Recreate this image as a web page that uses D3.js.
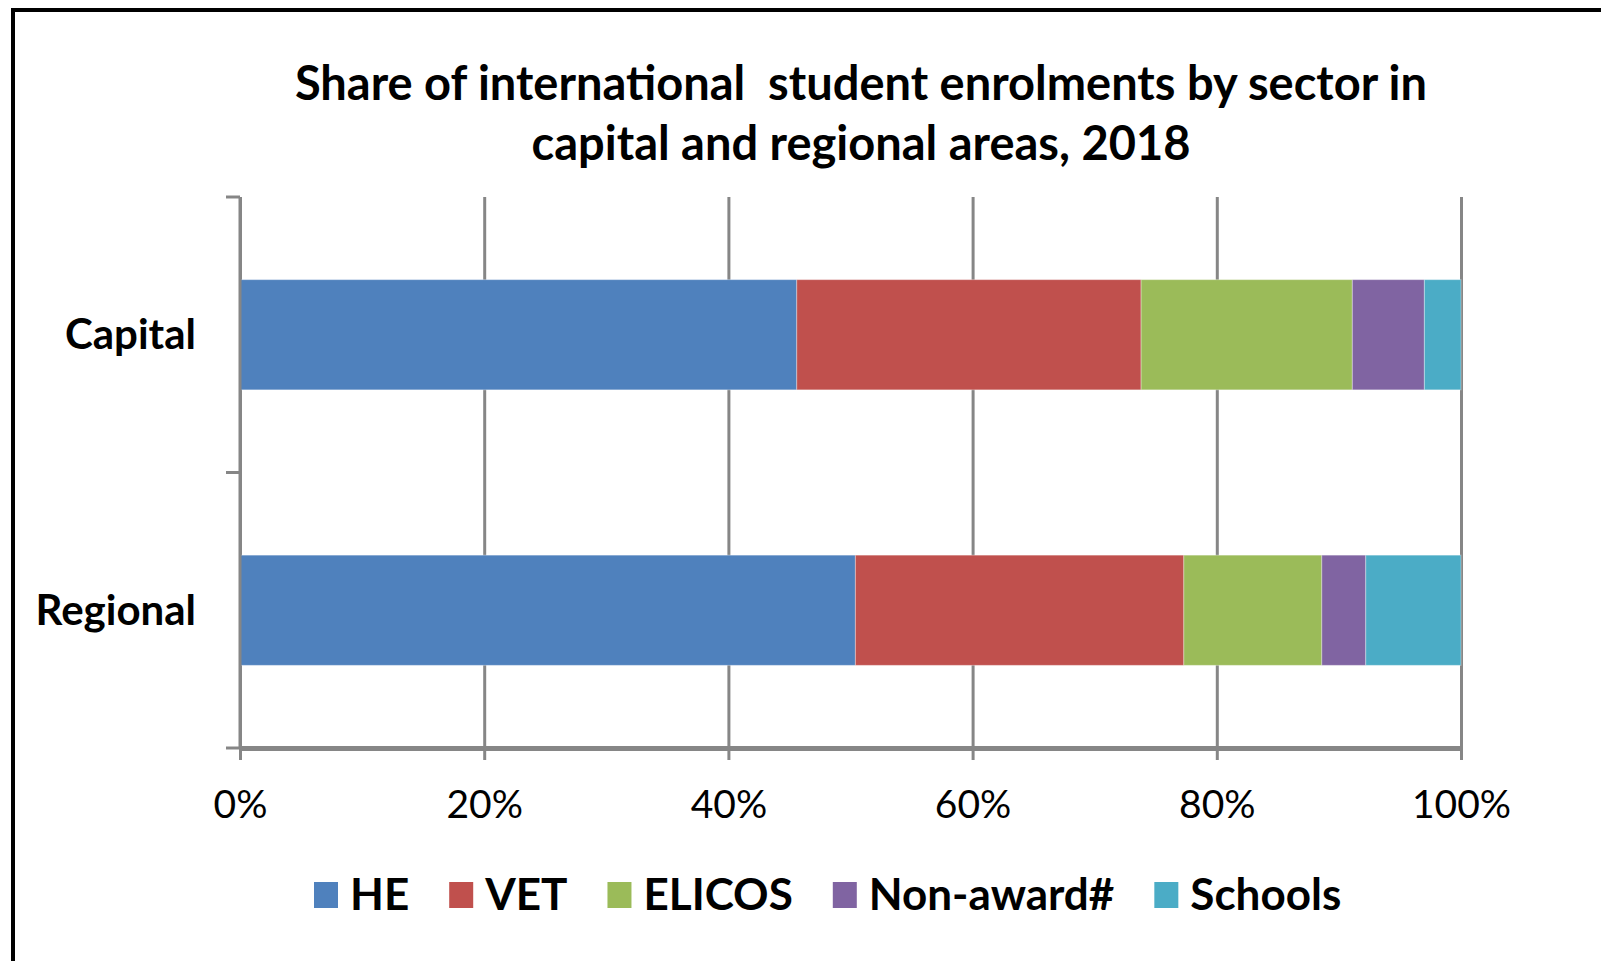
<!DOCTYPE html>
<html>
<head>
<meta charset="utf-8">
<script src="https://cdn.jsdelivr.net/npm/d3@7"></script>
<style>
  body { margin: 0; background: #fff; }
  svg { display: block; font-family: Lato, "Open Sans", sans-serif; }
</style>
</head>
<body>
<svg id="chart" width="1601" height="961"></svg>
<script>
// data (percent of enrolments)
var areas = ["Capital", "Regional"];
var sectors = ["HE", "VET", "ELICOS", "Non-award#", "Schools"];
var capitalShare = [45.6, 28.2, 17.3, 5.9, 3.0];
var regionalShare = [50.4, 26.9, 11.3, 3.6, 7.8];
var xTicks = [0, 20, 40, 60, 80, 100];
var sectorColors = ["#4F81BD", "#C0504D", "#9BBB59", "#8064A2", "#4BACC6"];
var titleLines = ["Share of international  student enrolments by sector in",
                  "capital and regional areas, 2018"];

var width = 1601, height = 961;
var margins = {top: 197, right: 140, bottom: 213, left: 240};

var svg = d3.select("#chart");

// frame (image is cropped so only left and top edges show)
svg.append("rect")
    .attr("x", 13).attr("y", 10)
    .attr("width", 2000).attr("height", 2000)
    .attr("fill", "none")
    .attr("stroke", "#000")
    .attr("stroke-width", 4);

// title
svg.append("g").selectAll("text")
    .data(titleLines)
    .enter().append("text")
    .attr("x", 861)
    .attr("y", (d, i) => 100 + i * 60)
    .attr("text-anchor", "middle")
    .attr("font-size", 47)
    .attr("font-weight", "bold")
    .attr("fill", "#000")
    .style("white-space", "pre")
    .text(d => d);

var rows = areas.map(function(a, i) {
    var vals = i === 0 ? capitalShare : regionalShare;
    var row = {area: a};
    sectors.forEach((s, j) => row[s] = vals[j]);
    return row;
});

var stacked = d3.stack().keys(sectors)(rows);

var xScale = d3.scaleLinear().domain([0, 100]).range([margins.left, width - margins.right]);
var yScale = d3.scaleBand().domain(areas)
    .range([margins.top, height - margins.bottom])
    .paddingInner(0.6).paddingOuter(0.3);

var plotBottom = height - margins.bottom;

// gridlines
svg.append("g")
    .attr("class", "grid")
    .attr("transform", "translate(0," + plotBottom + ")")
    .call(d3.axisBottom(xScale).tickValues(xTicks).tickSize(-(plotBottom - margins.top)).tickFormat(""))
    .call(g => g.select(".domain").remove())
    .call(g => g.selectAll("line").attr("stroke", "#868686").attr("stroke-width", 3));

// bars
var color = d3.scaleOrdinal().domain(sectors).range(sectorColors);
svg.append("g").selectAll("g")
    .data(stacked)
    .enter().append("g")
    .attr("fill", d => color(d.key))
    .selectAll("rect")
    .data(d => d)
    .enter().append("rect")
    .attr("x", d => xScale(d[0]))
    .attr("width", d => xScale(d[1]) - xScale(d[0]))
    .attr("y", d => yScale(d.data.area))
    .attr("height", yScale.bandwidth())
    .attr("stroke", "#fff")
    .attr("stroke-opacity", 0.35)
    .attr("stroke-width", 1);

// x axis
var xAxis = svg.append("g")
    .attr("transform", "translate(0," + plotBottom + ")")
    .call(d3.axisBottom(xScale).tickValues(xTicks).tickSize(12).tickSizeOuter(0)
        .tickFormat(d => d + "%"));
xAxis.select(".domain").attr("stroke", "#868686").attr("stroke-width", 5);
xAxis.selectAll(".tick line").attr("stroke", "#868686").attr("stroke-width", 3);
xAxis.selectAll(".tick text")
    .attr("y", 42)
    .attr("font-size", 39)
    .attr("font-family", "Lato, sans-serif")
    .attr("fill", "#000");

// y axis line + ticks at band boundaries
var yBounds = [margins.top, margins.top + yScale.step(), plotBottom];
var yAxis = svg.append("g");
yAxis.append("line")
    .attr("x1", margins.left).attr("x2", margins.left)
    .attr("y1", margins.top).attr("y2", plotBottom)
    .attr("stroke", "#868686").attr("stroke-width", 3);
yAxis.selectAll(".ytick")
    .data(yBounds)
    .enter().append("line")
    .attr("x1", margins.left - 14).attr("x2", margins.left)
    .attr("y1", d => d).attr("y2", d => d)
    .attr("stroke", "#868686").attr("stroke-width", 3);

yAxis.selectAll(".ylab")
    .data(areas)
    .enter().append("text")
    .attr("x", 196)
    .attr("y", d => yScale(d) + yScale.bandwidth() / 2)
    .attr("dy", "0.35em")
    .attr("text-anchor", "end")
    .attr("font-size", 42)
    .attr("font-weight", "bold")
    .attr("fill", "#000")
    .text(d => d);

// legend
var legend = svg.append("g").attr("transform", "translate(0,895)");
var lx = 314;
sectors.forEach(function(s, i) {
    var item = legend.append("g").attr("transform", "translate(" + lx + ",0)");
    item.append("rect")
        .attr("x", 0).attr("y", -13)
        .attr("width", 24).attr("height", 26)
        .attr("fill", sectorColors[i]);
    var t = item.append("text")
        .attr("x", 36)
        .attr("dy", "0.35em")
        .attr("font-size", 44)
        .attr("font-weight", "bold")
        .attr("fill", "#000")
        .text(s);
    lx += 36 + t.node().getComputedTextLength() + 40;
});
</script>
</body>
</html>
